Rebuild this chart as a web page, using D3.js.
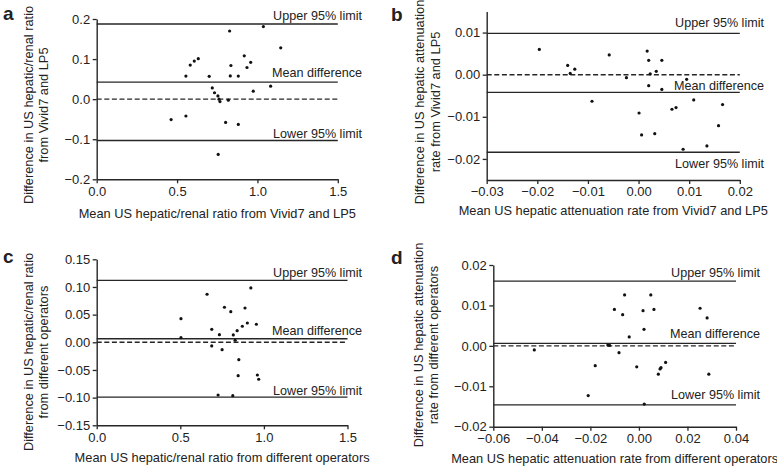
<!DOCTYPE html>
<html><head><meta charset="utf-8">
<script src="https://cdn.jsdelivr.net/npm/d3@7"></script>
<style>
html,body{margin:0;padding:0;background:#fff;}
svg{display:block;}
text{font-family:"Liberation Sans",Arial,Helvetica,sans-serif;fill:#222;}
</style></head>
<body>
<svg id="chart" width="777" height="468"></svg>
<script>
// ---- DATA ----
const lineLabels = ["Upper 95% limit", "Mean difference", "Lower 95% limit"];

// Panel a
const aX = [0.463,0.555,0.555,0.582,0.607,0.632,0.700,0.719,0.733,0.754,0.761,0.767,0.756,0.802,0.819,0.827,0.835,0.831,0.881,0.881,0.918,0.935,0.958,0.974,1.037,1.082,1.145];
const aY = [-0.051,-0.042,0.0575,0.085,0.095,0.101,0.057,0.028,0.016,0.008,0.0,-0.006,-0.138,-0.058,-0.0025,0.170,0.084,0.058,0.0575,-0.063,0.108,0.079,0.092,0.020,0.181,0.0325,0.128];
const aLimits = [0.1875, 0.0425, -0.103];
const aXTicks = [0, 0.5, 1.0, 1.5];
const aYTicks = [-0.2, -0.1, 0, 0.1, 0.2];

// Panel b
const bX = [-0.0196,-0.0140,-0.0135,-0.0126,-0.0092,-0.0058,-0.0024,0.0001,0.0006,0.0017,0.0020,0.0020,0.0023,0.0032,0.0035,0.0046,0.0046,0.0066,0.0074,0.0088,0.0095,0.0109,0.0135,0.0158,0.0166];
const bY = [0.0060,0.0022,0.0003,0.0013,-0.0063,0.0047,-0.0007,-0.0091,-0.0143,0.0056,0.0034,-0.0026,0.0002,-0.0140,0.0008,0.0034,-0.0035,-0.0082,-0.0078,-0.0177,-0.0011,-0.0060,-0.0169,-0.0121,-0.0071];
const bLimits = [0.0098, -0.0042, -0.0184];
const bXTicks = [-0.03, -0.02, -0.01, 0, 0.01, 0.02];
const bYTicks = [-0.02, -0.01, 0, 0.01];

// Panel c
const cX = [0.504,0.504,0.660,0.688,0.688,0.734,0.750,0.764,0.802,0.817,0.828,0.840,0.850,0.846,0.871,0.887,0.901,0.922,0.955,0.961,0.969,0.726,0.814];
const cY = [0.0427,0.0083,0.0868,0.0235,-0.0066,0.0138,-0.0133,0.0633,0.0554,0.0133,0.0037,0.0210,-0.0314,-0.0603,0.0290,0.0620,0.0349,0.0982,0.0326,-0.0591,-0.0668,-0.0952,-0.0964];
const cLimits = [0.112, 0.0065, -0.099];
const cXTicks = [0, 0.5, 1.0, 1.5];
const cYTicks = [-0.15, -0.10, -0.05, 0, 0.05, 0.10, 0.15];

// Panel d
const dX = [-0.0431,-0.0209,-0.0180,-0.0128,-0.0121,-0.0101,-0.0082,-0.0067,-0.0059,-0.0040,-0.0009,0.0017,0.0021,0.0022,0.0049,0.0062,0.0080,0.0087,0.0091,0.0110,0.0252,0.0281,0.0288];
const dY = [-0.0010,-0.0123,-0.0049,0.0002,0.0001,0.0090,-0.0017,0.0077,0.0126,0.0022,-0.0052,0.0087,0.0041,-0.0144,0.0126,0.0090,-0.0070,-0.0057,-0.0054,-0.0041,0.0093,0.0069,-0.0070];
const dLimits = [0.016, 0.0006, -0.0146];
const dXTicks = [-0.06, -0.04, -0.02, 0, 0.02, 0.04];
const dYTicks = [-0.02, -0.01, 0, 0.01, 0.02];

// ---- LAYOUT / PANELS ----
const panels = [
  {letter:"a", lx:3, ly:20, xs:aX, ys:aY, limits:aLimits, xTicks:aXTicks, yTicks:aYTicks,
   xDomain:[0,1.5], yDomain:[-0.2,0.2], xRange:[96.7,337.8], yRange:[179.3,19],
   xFmt:".1f", yFmt:".1f", labRight:362, labOff:[-4.5,-5.5,-2.5],
   yTitle:["Difference in US hepatic/renal ratio","from Vivid7 and LP5"], yTitleX:[29,43.5], yTitleY:105,
   xTitle:"Mean US hepatic/renal ratio from Vivid7 and LP5", xTitleY:217.5},
  {letter:"b", lx:391, ly:21, xs:bX, ys:bY, limits:bLimits, xTicks:bXTicks, yTicks:bYTicks,
   xDomain:[-0.03,0.02], yDomain:[-0.025,0.015], xRange:[486.7,739.8], yRange:[180,11.5],
   xFmt:".2f", yFmt:".2f", labRight:764, labOff:[-6,-2.5,15.5],
   yTitle:["Difference in US hepatic attenuation","rate from Vivid7 and LP5"], yTitleX:[420,436], yTitleY:102,
   xTitle:"Mean US hepatic attenuation rate from Vivid7 and LP5", xTitleY:215},
  {letter:"c", lx:3, ly:263, xs:cX, ys:cY, limits:cLimits, xTicks:cXTicks, yTicks:cYTicks,
   xDomain:[0,1.5], yDomain:[-0.15,0.15], xRange:[96.7,347.5], yRange:[425.3,259.3],
   xFmt:".1f", yFmt:".2f", labRight:362, labOff:[-3,-4,-2],
   yTitle:["Difference in US hepatic/renal ratio","from different operators"], yTitleX:[29,43.5], yTitleY:352,
   xTitle:"Mean US hepatic/renal ratio from different operators", xTitleY:462},
  {letter:"d", lx:391, ly:264, xs:dX, ys:dY, limits:dLimits, xTicks:dXTicks, yTicks:dYTicks,
   xDomain:[-0.06,0.04], yDomain:[-0.02,0.02], xRange:[493.3,736], yRange:[426.7,265],
   xFmt:".2f", yFmt:".2f", labRight:760, labOff:[-4.5,-5,-5.5],
   yTitle:["Difference in US hepatic attenuation","rate from different operators"], yTitleX:[419,434], yTitleY:345,
   xTitle:"Mean US hepatic attenuation rate from different operators", xTitleY:463}
];

const svg = d3.select("#chart");
const ink = "#262626";

panels.forEach(p => {
  const g = svg.append("g");
  const x = d3.scaleLinear().domain(p.xDomain).range(p.xRange);
  const y = d3.scaleLinear().domain(p.yDomain).range(p.yRange);

  // axes
  const xAxis = d3.axisBottom(x).tickValues(p.xTicks).tickFormat(d3.format(p.xFmt))
      .tickSizeInner(4).tickSizeOuter(0).tickPadding(3);
  const yAxis = d3.axisLeft(y).tickValues(p.yTicks).tickFormat(d3.format(p.yFmt))
      .tickSizeInner(4).tickSizeOuter(0).tickPadding(2.5);
  const gx = g.append("g").attr("transform", `translate(0,${p.yRange[0]})`).call(xAxis);
  const gy = g.append("g").attr("transform", `translate(${p.xRange[0]},0)`).call(yAxis);
  [gx, gy].forEach(a => {
    a.select(".domain").attr("stroke", ink).attr("stroke-width", 1.4);
    a.selectAll(".tick line").attr("stroke", ink).attr("stroke-width", 1.3);
    a.selectAll(".tick text").attr("font-size", 13).attr("fill", "#333")
      .style("font-family", '"Liberation Sans",Arial,sans-serif');
  });

  // zero dashed line
  g.append("line")
    .attr("x1", x(p.xDomain[0])).attr("x2", x(p.xDomain[1]))
    .attr("y1", y(0)).attr("y2", y(0))
    .attr("stroke", ink).attr("stroke-width", 1.4).attr("stroke-dasharray", "5,2.6");

  // limit lines
  g.selectAll(".lim").data(p.limits).join("line")
    .attr("x1", x(p.xDomain[0])).attr("x2", x(p.xDomain[1]))
    .attr("y1", d => y(d)).attr("y2", d => y(d))
    .attr("stroke", ink).attr("stroke-width", 1.4);

  g.selectAll(".limlab").data(p.limits).join("text")
    .attr("x", p.labRight)
    .attr("y", (d, i) => y(d) + p.labOff[i])
    .attr("text-anchor", "end")
    .attr("font-size", 12.6)
    .attr("fill", "#333")
    .text((d, i) => lineLabels[i]);

  // points
  g.selectAll(".pt").data(p.xs.map((v, i) => [v, p.ys[i]])).join("circle")
    .attr("cx", d => x(d[0])).attr("cy", d => y(d[1]))
    .attr("r", 1.6).attr("fill", "#111");

  // titles
  g.append("text")
    .attr("x", (p.xRange[0] + p.xRange[1]) / 2).attr("y", p.xTitleY)
    .attr("text-anchor", "middle").attr("font-size", 12.8).attr("fill", "#333")
    .text(p.xTitle);
  p.yTitle.forEach((t, i) => {
    g.append("text")
      .attr("transform", `translate(${p.yTitleX[i]},${p.yTitleY}) rotate(-90)`)
      .attr("dy", "0.35em")
      .attr("text-anchor", "middle").attr("font-size", 12.8).attr("fill", "#333")
      .text(t);
  });

  // panel letter
  g.append("text").attr("x", p.lx).attr("y", p.ly)
    .attr("font-size", 19).attr("font-weight", "bold").attr("fill", "#111")
    .text(p.letter);
});
</script>
</body></html>
